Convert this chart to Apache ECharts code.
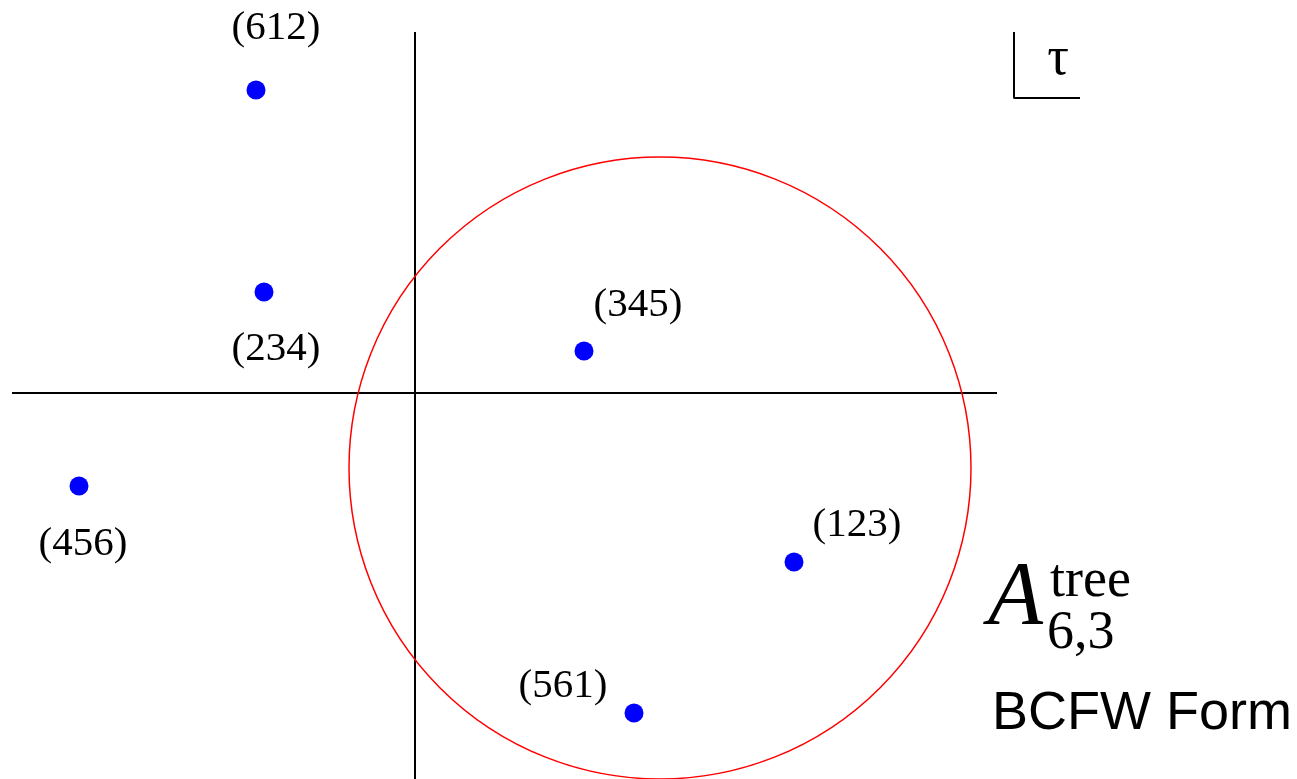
<!DOCTYPE html>
<html>
<head>
<meta charset="utf-8">
<script src="https://cdn.jsdelivr.net/npm/echarts@6/dist/echarts.min.js"></script>
<style>html,body{margin:0;padding:0;background:#fff;}#c{width:1297px;height:779px;}</style>
</head>
<body>
<div id="c"></div>
<script>
// Data (plane coordinates, origin at axes crossing)
const pointNames = ['(612)', '(234)', '(345)', '(456)', '(123)', '(561)'];
const pointX = [-1.59, -1.51, 1.69, -3.36, 3.79, 2.19];
const pointY = [3.03, 1.01, 0.42, -0.93, -1.69, -3.20];
const circle = [2.45, -0.75, 3.11]; // cx, cy, r
const hAxisLine = [[-4.03, 0], [5.82, 0]];
const vAxisLine = [[0, 3.61], [0, -3.86]];
const tauCorner = [[5.99, 3.61], [5.99, 2.95], [6.65, 2.95]];

// label placement (styling)
const labelOffsets = [[20, -62], [12, 57], [54, -46], [4, 58], [63, -37], [-71, -27]];

const chart = echarts.init(document.getElementById('c'));
const serif = '"Liberation Serif", "DejaVu Serif", serif';

const lineStyle = { color: '#000', width: 2, opacity: 1 };
function lineSeries(data) {
  return { type: 'line', data: data, symbol: 'none', lineStyle: lineStyle, silent: true, animation: false, z: 1 };
}

chart.setOption({
  animation: false,
  grid: { left: 0, right: 0, top: 0, bottom: 0 },
  xAxis: { type: 'value', min: -4.15, max: 8.82, show: false },
  yAxis: { type: 'value', min: -3.86, max: 3.93, show: false },
  series: [
    lineSeries(hAxisLine),
    lineSeries(vAxisLine),
    lineSeries(tauCorner),
    {
      type: 'custom',
      data: [circle],
      clip: false,
      z: 2,
      renderItem: function (params, api) {
        const c = api.coord([api.value(0), api.value(1)]);
        const s = api.size([api.value(2), api.value(2)]);
        return { type: 'circle', shape: { cx: c[0], cy: c[1], r: s[0] }, style: { fill: 'none', stroke: '#ff0000', lineWidth: 1.5 } };
      }
    },
    {
      type: 'scatter',
      z: 3,
      symbolSize: 19,
      itemStyle: { color: '#0000ff', opacity: 1 },
      data: pointNames.map((n, i) => ({
        name: n,
        value: [pointX[i], pointY[i]],
        label: {
          show: true,
          formatter: n,
          position: 'inside',
          offset: labelOffsets[i],
          color: '#000',
          opacity: 1,
          fontFamily: serif,
          fontSize: 41
        }
      }))
    }
  ],
  graphic: [
    { type: 'text', style: { x: 1058, y: 60, text: 'τ', font: '54px ' + serif, fill: '#000', align: 'center', verticalAlign: 'middle' } },
    { type: 'text', style: { x: 988, y: 645, text: 'A', font: 'italic 90px ' + serif, fill: '#000', align: 'left', verticalAlign: 'bottom' } },
    { type: 'text', style: { x: 1050, y: 582, text: 'tree', font: '54px ' + serif, fill: '#000', align: 'left', verticalAlign: 'middle' } },
    { type: 'text', style: { x: 1047, y: 634, text: '6,3', font: '54px ' + serif, fill: '#000', align: 'left', verticalAlign: 'middle' } },
    { type: 'text', style: { x: 992, y: 714, text: 'BCFW Form', font: '54px "Liberation Sans", Arial, sans-serif', fill: '#000', align: 'left', verticalAlign: 'middle' } }
  ]
});
</script>
</body>
</html>
